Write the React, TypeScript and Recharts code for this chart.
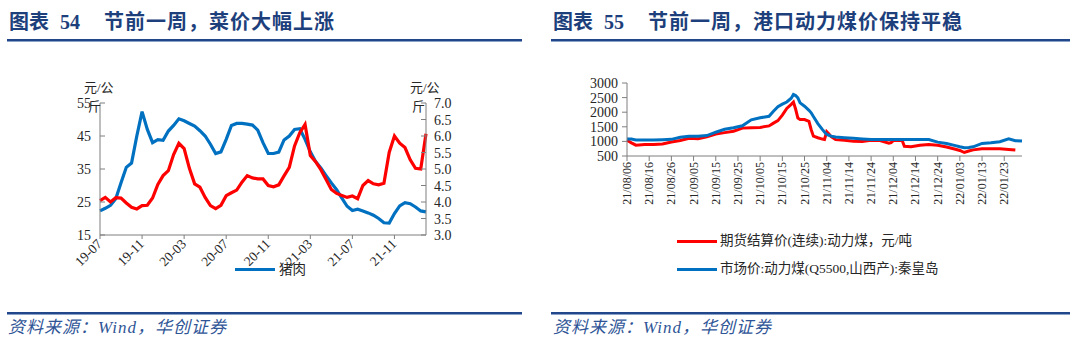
import React from 'react';
import { LineChart, Line, XAxis, YAxis } from 'recharts';

// left chart: half-month periods, 2019-07 .. 2022-02
const vegPeriods = [
  '19-07-01', '19-07-16', '19-08-01', '19-08-16', '19-09-01', '19-09-16', '19-10-01', '19-10-16', '19-11-01', '19-11-16', '19-12-01', '19-12-16',
  '20-01-01', '20-01-16', '20-02-01', '20-02-16', '20-03-01', '20-03-16', '20-04-01', '20-04-16', '20-05-01', '20-05-16', '20-06-01', '20-06-16',
  '20-07-01', '20-07-16', '20-08-01', '20-08-16', '20-09-01', '20-09-16', '20-10-01', '20-10-16', '20-11-01', '20-11-16', '20-12-01', '20-12-16',
  '21-01-01', '21-01-16', '21-02-01', '21-02-16', '21-03-01', '21-03-16', '21-04-01', '21-04-16', '21-05-01', '21-05-16', '21-06-01', '21-06-16',
  '21-07-01', '21-07-16', '21-08-01', '21-08-16', '21-09-01', '21-09-16', '21-10-01', '21-10-16', '21-11-01', '21-11-16', '21-12-01', '21-12-16',
  '22-01-01', '22-01-16', '22-02-01',
];
// 猪肉, 元/公斤 (left axis)
const porkPrice = [
  22.3, 23.1, 24.0, 26.0, 30.8, 35.5, 36.8, 45.0, 52.4, 47.0,
  43.0, 43.9, 43.7, 46.5, 48.2, 50.2, 49.6, 48.8, 48.0, 46.6,
  45.0, 42.5, 39.7, 40.2, 44.0, 48.2, 48.8, 48.8, 48.6, 48.3,
  46.8, 43.0, 39.7, 39.7, 40.1, 43.8, 45.0, 47.0, 47.2, 44.0,
  40.2, 37.3, 35.3, 33.0, 30.8, 28.7, 26.2, 23.7, 22.4, 22.8,
  22.3, 21.7, 21.0, 20.0, 18.7, 18.6, 21.5, 23.8, 24.8, 24.5,
  23.5, 22.3, 22.0,
];
// 蔬菜, 元/公斤 (right axis)
const vegPrice = [
  4.04, 4.14, 4.0, 4.13, 4.12, 3.97, 3.84, 3.79, 3.89, 3.9,
  4.12, 4.53, 4.8, 4.95, 5.44, 5.78, 5.62, 5.02, 4.55, 4.45,
  4.14, 3.89, 3.8, 3.9, 4.19, 4.28, 4.36, 4.6, 4.8, 4.73,
  4.7, 4.7, 4.5, 4.46, 4.52, 4.79, 5.05, 5.7, 6.1, 6.35,
  5.41, 5.22, 4.98, 4.68, 4.38, 4.26, 4.2, 4.14, 4.18, 4.1,
  4.5, 4.65, 4.55, 4.52, 4.57, 5.5, 6.0, 5.78, 5.65, 5.28,
  5.02, 5.0, 6.07,
];
const vegTicks = ['19-07-01', '19-11-01', '20-03-01', '20-07-01', '20-11-01', '21-03-01', '21-07-01', '21-11-01'];
const porkAxisTicks = [15, 25, 35, 45, 55];
const vegAxisTicks = [3, 3.5, 4, 4.5, 5, 5.5, 6, 6.5, 7];

// right chart: days since 21/08/06
const coalDays = [
  0, 2, 4, 8, 12, 16, 20, 24, 28, 32,
  36, 40, 44, 48, 52, 56, 60, 64, 66, 68,
  70, 72, 74, 75, 76, 77, 78, 80, 82, 83,
  84, 86, 88, 89, 90, 91, 92, 94, 98, 102,
  106, 110, 114, 118, 119, 120, 124, 125, 128, 132,
  136, 140, 144, 148, 150, 152, 154, 156, 160, 164,
  168, 172, 175, 178,
];
const coalMarket = [
  1080, 1080, 1050, 1045, 1050, 1058, 1070, 1140, 1180, 1180,
  1200, 1315, 1415, 1465, 1535, 1740, 1810, 1860, 2035, 2185,
  2275, 2350, 2480, 2605, 2570, 2490, 2320, 2205, 2065, 1980,
  1850, 1610, 1410, 1320, 1235, 1210, 1180, 1150, 1125, 1105,
  1085, 1065, 1065, 1065, 1065, 1065, 1065, 1065, 1065, 1065,
  1065, 975, 930, 855, 815, 780, 795, 815, 930, 955,
  990, 1090, 1025, 1010,
];
const coalFutures = [
  1040, 950, 870, 895, 895, 910, 980, 1030, 1110, 1095,
  1160, 1250, 1300, 1350, 1455, 1470, 1480, 1530, 1625, 1710,
  1900, 2130, 2270, 2345, 2100, 1800, 1750, 1750, 1690, 1400,
  1180, 1125, 1080, 1065, 1330, 1250, 1160, 1060, 1040, 1005,
  1000, 1040, 1030, 940, 960, 1030, 1030, 830, 815, 870,
  895, 870, 810, 730, 690, 620, 670, 710, 745, 745,
  745, 725, 705, null,
];
const coalTickDays = [0, 10, 20, 30, 40, 50, 60, 70, 80, 90, 100, 110, 120, 130, 140, 150, 160, 170];
const coalTickLabels = [
  '21/08/06', '21/08/16', '21/08/26', '21/09/05', '21/09/15', '21/09/25', '21/10/05', '21/10/15', '21/10/25',
  '21/11/04', '21/11/14', '21/11/24', '21/12/04', '21/12/14', '21/12/24', '22/01/03', '22/01/13', '22/01/23',
];
const coalAxisTicks = [500, 1000, 1500, 2000, 2500, 3000];

const vegData = vegPeriods.map((p, i) => ({ p, pork: porkPrice[i], veg: vegPrice[i] }));
const coalData = coalDays.map((d, i) => ({ d, market: coalMarket[i], futures: coalFutures[i] }));

const SERIF = '"Liberation Serif", "Times New Roman", "Noto Sans CJK SC", serif';
const CJK = '"Liberation Serif", "Noto Sans CJK SC", sans-serif';
const NAVY = '#1d3f7c';
const AXIS = '#7f7f7f';
const BLUE = '#0070C0';
const RED = '#FF0000';

const LeftInTick = (props: any) => {
  const { x, y, payload } = props;
  return (
    <g>
      <line x1={x + 9} x2={x + 14} y1={y} y2={y} stroke={AXIS} />
      <text x={x} y={y} dy={5} textAnchor="end" fontSize={14} fill="#262626" fontFamily={SERIF}>
        {payload.value}
      </text>
    </g>
  );
};

const RightInTick = (props: any) => {
  const { x, y, payload } = props;
  return (
    <g>
      <line x1={x - 8} x2={x - 13} y1={y} y2={y} stroke={AXIS} />
      <text x={x} y={y} dy={5} textAnchor="start" fontSize={14} fill="#262626" fontFamily={SERIF}>
        {Number(payload.value).toFixed(1)}
      </text>
    </g>
  );
};

const DiagTick = (props: any) => {
  const { x, y, payload } = props;
  return (
    <text x={x} y={y} dy={4} transform={`rotate(-45 ${x} ${y})`} textAnchor="end" fontSize={13.5} fill="#262626" fontFamily={SERIF}>
      {String(payload.value).slice(0, 5)}
    </text>
  );
};

const VertTick = (props: any) => {
  const { x, y, payload } = props;
  const idx = coalTickDays.indexOf(payload.value);
  return (
    <text x={x} y={y} dy={4} transform={`rotate(-90 ${x} ${y})`} textAnchor="end" fontSize={12} fill="#262626" fontFamily={SERIF}>
      {coalTickLabels[idx]}
    </text>
  );
};

const abs = (left: number, top: number, extra: React.CSSProperties = {}): React.CSSProperties => ({
  position: 'absolute',
  left,
  top,
  whiteSpace: 'nowrap',
  ...extra,
});

const Title = ({ x, num, text }: { x: number; num: string; text: string }) => {
  const st: React.CSSProperties = { fontSize: 20, fontWeight: 700, color: NAVY, lineHeight: '22px' };
  return (
    <>
      <span style={abs(x, 11, { ...st, fontFamily: CJK })}>图表</span>
      <span style={abs(x + 51, 11, { ...st, fontFamily: SERIF })}>{num}</span>
      <span style={abs(x + 95, 11, { ...st, fontFamily: CJK, letterSpacing: 1 })}>{text}</span>
    </>
  );
};

const Rule = ({ x, y, w }: { x: number; y: number; w: number }) => (
  <div style={abs(x, y, { width: w, height: 2, background: '#21478a', borderBottom: '1px solid #8aa2c8' })} />
);

const Source = ({ x }: { x: number }) => (
  <span style={abs(x, 318, { fontSize: 17, fontStyle: 'italic', color: '#2f5597', fontFamily: CJK, lineHeight: '20px', letterSpacing: 1 })}>
    资料来源：Wind，华创证券
  </span>
);

const unitStyle: React.CSSProperties = { fontSize: 13, color: '#262626', fontFamily: CJK, lineHeight: '14px' };
const legendStyle: React.CSSProperties = { fontSize: 13.5, color: '#262626', fontFamily: CJK, lineHeight: '16px' };

export default function App() {
  return (
    <div style={{ position: 'absolute', left: 0, top: 0, width: 1080, height: 361, background: '#fff', overflow: 'hidden' }}>
      <Title x={9} num="54" text="节前一周，菜价大幅上涨" />
      <Title x={553} num="55" text="节前一周，港口动力煤价保持平稳" />
      <Rule x={7} y={39} w={515} />
      <Rule x={551} y={39} w={519} />

      {/* left: pork & vegetables */}
      <div style={abs(0, 0)}>
        <LineChart width={520} height={290} data={vegData} margin={{ top: 103, right: 54, left: 60, bottom: 15 }}>
          <XAxis
            dataKey="p"
            scale="point"
            padding={{ left: 0, right: 0 }}
            ticks={vegTicks}
            interval={0}
            height={40}
            tick={<DiagTick />}
            tickSize={4}
            tickMargin={3}
            stroke={AXIS}
          />
          <YAxis
            yAxisId="l"
            orientation="left"
            width={40}
            domain={[15, 55]}
            ticks={porkAxisTicks}
            interval={0}
            tickSize={0}
            tickMargin={9}
            tickLine={false}
            tick={<LeftInTick />}
            stroke={AXIS}
          />
          <YAxis
            yAxisId="r"
            orientation="right"
            width={40}
            domain={[3, 7]}
            ticks={vegAxisTicks}
            interval={0}
            tickSize={0}
            tickMargin={8}
            tickLine={false}
            tick={<RightInTick />}
            stroke={AXIS}
          />
          <Line yAxisId="l" dataKey="pork" stroke={BLUE} strokeWidth={3.2} dot={false} isAnimationActive={false} />
          <Line yAxisId="r" dataKey="veg" stroke={RED} strokeWidth={3.2} dot={false} isAnimationActive={false} />
        </LineChart>
      </div>
      <span style={abs(84, 81, unitStyle)}>元/公</span>
      <span style={abs(88, 100, unitStyle)}>斤</span>
      <span style={abs(410, 81, unitStyle)}>元/公</span>
      <span style={abs(412, 100, unitStyle)}>斤</span>
      <div style={abs(235, 268, { width: 40, height: 3, background: BLUE })} />
      <span style={abs(279, 262, legendStyle)}>猪肉</span>

      {/* right: thermal coal */}
      <div style={abs(540, 0)}>
        <LineChart width={520} height={290} data={coalData} margin={{ top: 83, right: 38, left: 37, bottom: 84 }}>
          <XAxis
            dataKey="d"
            type="number"
            domain={[0, 178]}
            ticks={coalTickDays}
            interval={0}
            height={50}
            tick={<VertTick />}
            tickSize={5}
            tickMargin={1}
            stroke={AXIS}
          />
          <YAxis
            width={50}
            domain={[500, 3000]}
            ticks={coalAxisTicks}
            interval={0}
            tickSize={5}
            tickMargin={4}
            tick={{ fontSize: 14, fill: '#262626', fontFamily: SERIF }}
            stroke={AXIS}
          />
          <Line dataKey="futures" stroke={RED} strokeWidth={3} dot={false} isAnimationActive={false} connectNulls={false} />
          <Line dataKey="market" stroke={BLUE} strokeWidth={3} dot={false} isAnimationActive={false} />
        </LineChart>
      </div>
      <div style={abs(677, 240, { width: 40, height: 3, background: RED })} />
      <span style={abs(720, 233, legendStyle)}>期货结算价(连续):动力煤，元/吨</span>
      <div style={abs(677, 268, { width: 40, height: 3, background: BLUE })} />
      <span style={abs(720, 261, legendStyle)}>市场价:动力煤(Q5500,山西产):秦皇岛</span>

      <Rule x={7} y={312} w={515} />
      <Rule x={551} y={312} w={519} />
      <Source x={8} />
      <Source x={553} />
    </div>
  );
}
